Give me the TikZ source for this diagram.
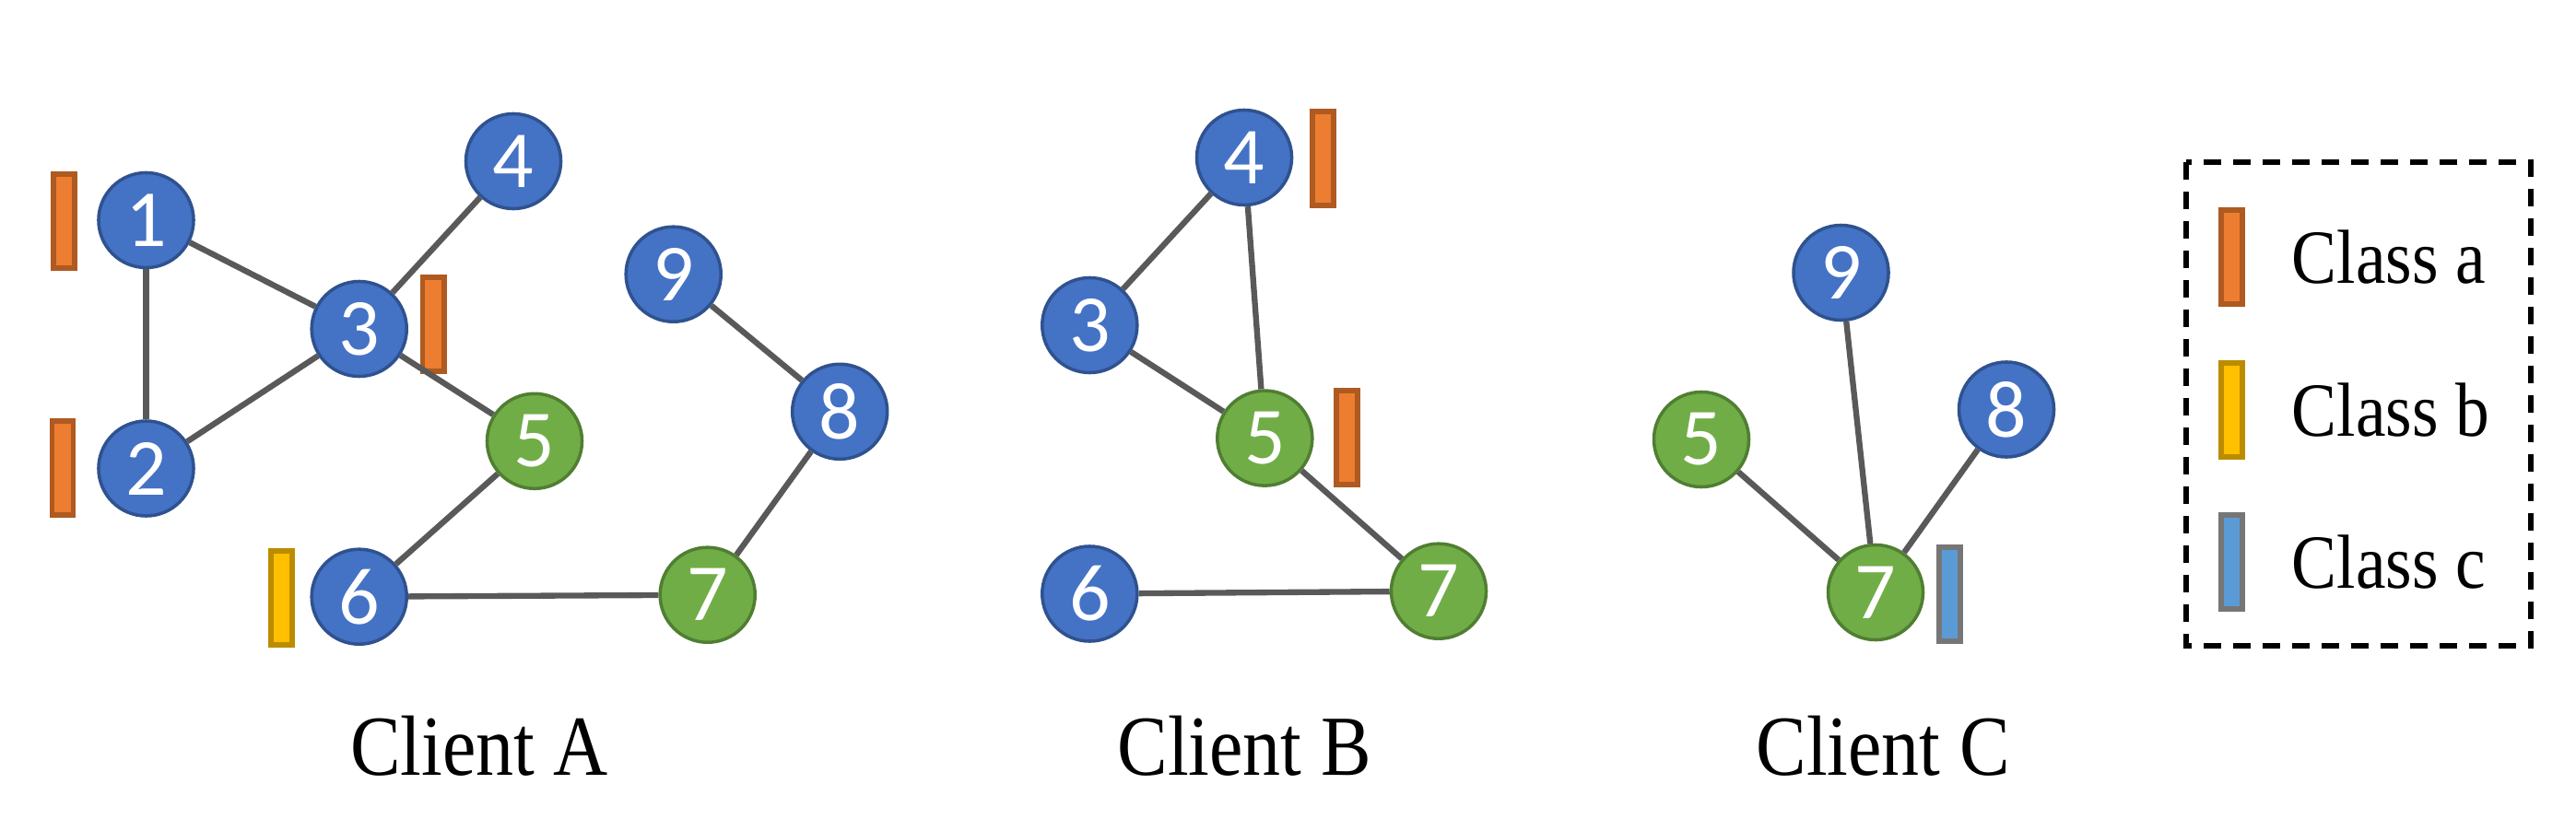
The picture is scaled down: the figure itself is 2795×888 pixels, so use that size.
\documentclass[tikz,border=0pt]{standalone}
\usepackage{graphicx}
\usepackage{fontspec}
\setmainfont{Liberation Serif}
\newfontfamily\digitfont{Carlito}
\usetikzlibrary{positioning}

\definecolor{nodeblue}{HTML}{4472C4}
\definecolor{nodeblueline}{HTML}{2F528F}
\definecolor{nodegreen}{HTML}{70AD47}
\definecolor{nodegreenline}{HTML}{507E32}
\definecolor{barorange}{HTML}{ED7D31}
\definecolor{barorangeline}{HTML}{AE5A21}
\definecolor{baryellow}{HTML}{FFC000}
\definecolor{baryellowline}{HTML}{BC8C00}
\definecolor{barblue}{HTML}{5B9BD5}
\definecolor{barblueline}{HTML}{767676}
\definecolor{edgegray}{HTML}{595959}

% taller, narrower lettering as in the figure
\newcommand{\tallword}[1]{\scalebox{0.97}[1.1]{#1}}

\begin{document}
\begin{tikzpicture}[
		x=0.01cm,
		y=-0.01cm,
		vertex/.style={
			circle,
			minimum size=1.03cm,
			inner sep=0pt,
			line width=1pt,
			text=white,
			font=\digitfont\fontsize{25}{25}\selectfont,
		},
		bluevertex/.style={vertex, fill=nodeblue, draw=nodeblueline},
		greenvertex/.style={vertex, fill=nodegreen, draw=nodegreenline},
		bar/.style={
			rectangle,
			minimum width=0.23cm,
			minimum height=1.02cm,
			inner sep=0pt,
			line width=1.7pt,
		},
		classa/.style={bar, fill=barorange, draw=barorangeline},
		classb/.style={bar, fill=baryellow, draw=baryellowline},
		classc/.style={bar, fill=barblue, draw=barblueline},
		link/.style={draw=edgegray, line width=1.8pt},
		caption/.style={anchor=base, inner sep=0pt, font=\fontsize{24}{24}\selectfont},
		legendtext/.style={inner sep=0pt, font=\fontsize{21.5}{21.5}\selectfont},
	]
		\useasboundingbox (0,0) rectangle (2795,888);

		% Client A
		\node[bluevertex] (a1) at (158.5,239) {1};
		\node[bluevertex] (a2) at (158.5,508.5) {2};
		\node[bluevertex] (a3) at (389.7,357) {3};
		\node[bluevertex] (a4) at (557,175) {4};
		\node[greenvertex] (a5) at (580,478.8) {5};
		\node[bluevertex] (a6) at (389.7,647.7) {6};
		\node[greenvertex] (a7) at (767.7,645.7) {7};
		\node[bluevertex] (a8) at (911.2,446.8) {8};
		\node[bluevertex] (a9) at (730.7,297.7) {9};
		\node[classa] (a1bar) at (69.6,240.4) {};
		\node[classa] (a2bar) at (68,508) {};
		\node[classa] (a3bar) at (470,352) {};
		\node[classb] (a6bar) at (305.3,649.3) {};
		\draw[link] (a1) -- (a3);
		\draw[link] (a1) -- (a2);
		\draw[link] (a2) -- (a3);
		\draw[link] (a3) -- (a4);
		\draw[link] (a3) -- (a5);
		\draw[link] (a5) -- (a6);
		\draw[link] (a6) -- (a7);
		\draw[link] (a7) -- (a8);
		\draw[link] (a8) -- (a9);
		\node[caption] (capA) at (520,841) {\tallword{Client A}};

		% Client B
		\node[bluevertex] (b3) at (1182.3,353) {3};
		\node[bluevertex] (b4) at (1350,171) {4};
		\node[greenvertex] (b5) at (1372.3,475.6) {5};
		\node[bluevertex] (b6) at (1182.3,644.5) {6};
		\node[greenvertex] (b7) at (1561,641.7) {7};
		\node[classa] (b4bar) at (1435.4,171.9) {};
		\node[classa] (b5bar) at (1461.5,475) {};
		\draw[link] (b4) -- (b3);
		\draw[link] (b4) -- (b5);
		\draw[link] (b3) -- (b5);
		\draw[link] (b5) -- (b7);
		\draw[link] (b6) -- (b7);
		\node[caption] (capB) at (1350,841) {\tallword{Client B}};

		% Client C
		\node[greenvertex] (c5) at (1846,477) {5};
		\node[greenvertex] (c7) at (2035,643) {7};
		\node[bluevertex] (c8) at (2177,444.5) {8};
		\node[bluevertex] (c9) at (1997.5,296) {9};
		\node[classc] (c7bar) at (2115.5,645) {};
		\draw[link] (c5) -- (c7);
		\draw[link] (c9) -- (c7);
		\draw[link] (c8) -- (c7);
		\node[caption] (capC) at (2043,841) {\tallword{Client C}};

		% legend
		\draw[line width=1.85pt, dash pattern=on 5.4pt off 3.7pt] (2372,176) rectangle (2746,701);
		\node[classa] (keya) at (2421.5,279) {};
		\node[classb] (keyb) at (2421.5,444.7) {};
		\node[classc] (keyc) at (2421.5,609.7) {};
		\node[legendtext, right=0.5cm of keya] (texta) {\tallword{Class a}};
		\node[legendtext, right=0.5cm of keyb] (textb) {\tallword{Class b}};
		\node[legendtext, right=0.5cm of keyc] (textc) {\tallword{Class c}};
	\end{tikzpicture}
\end{document}
